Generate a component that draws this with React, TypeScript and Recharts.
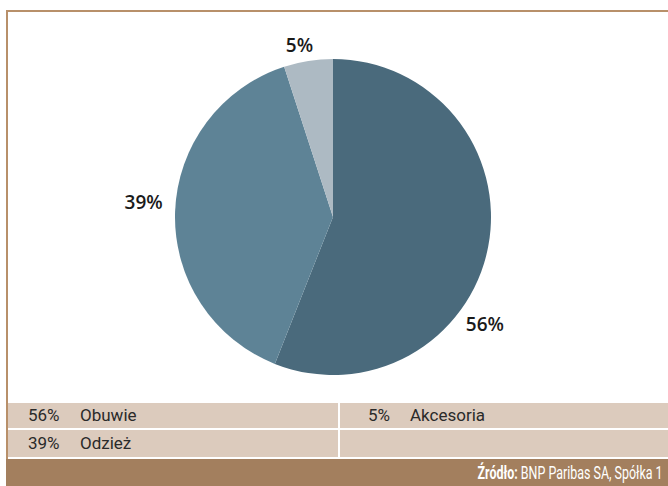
import { PieChart, Pie, Cell } from 'recharts';

const categories = ['Obuwie', 'Odzież', 'Akcesoria'];
const shares = [56, 39, 5];
const colors = ['#4a6a7c', '#5e8396', '#adbac3'];

const pieData = categories.map((name, i) => ({ name, value: shares[i] }));

const RAD = Math.PI / 180;

// label nudges (angle in degrees, extra radius in px) to follow the original layout
const labelTweak = [
    { da: -24, dr: 27 },
    { da: -3, dr: 32 },
    { da: 2, dr: 18 },
];

const renderLabel = (props: any) => {
    const { cx, cy, midAngle, outerRadius, index, value } = props;
    const t = labelTweak[index];
    const angle = midAngle + t.da;
    const r = outerRadius + t.dr;
    const x = cx + r * Math.cos(-angle * RAD);
    const y = cy + r * Math.sin(-angle * RAD);
    return (
        <text x={x} y={y + 1} textAnchor="middle" dominantBaseline="central"
            fontFamily="'Open Sans', sans-serif" fontWeight={600} fontSize={19} fill="#1a1a1a">
            {value}%
        </text>
    );
};

const cellText = { fontFamily: "Roboto, sans-serif", fontSize: 17, color: '#2a2a2a' };

export default function App() {
    return (
        <div style={{ position: 'absolute', left: 0, top: 0, width: 668, height: 486, background: '#fff', overflow: 'hidden' }}>
            <div style={{ position: 'absolute', left: 6, top: 10, width: 662, height: 449, borderTop: '2px solid #b8906a', borderLeft: '2px solid #b8906a', boxSizing: 'border-box' }} />
            <div style={{ position: 'absolute', left: 0, top: 0 }}>
                <PieChart width={668} height={400} margin={{ top: 0, right: 0, bottom: 0, left: 0 }}>
                    <Pie data={pieData} dataKey="value" cx={333} cy={217} outerRadius={158}
                        startAngle={90} endAngle={-270} stroke="none" label={renderLabel} labelLine={false}
                        isAnimationActive={false}>
                        {pieData.map((d, i) => <Cell key={d.name} fill={colors[i]} />)}
                    </Pie>
                </PieChart>
            </div>
            {[
                { top: 403, h: 25, items: [0, 2] },
                { top: 430, h: 27, items: [1] },
            ].map((row, ri) => (
                <div key={ri} style={{ position: 'absolute', left: 8, top: row.top, width: 660, height: row.h }}>
                    {[0, 1].map((col) => {
                        const idx = row.items[col];
                        return (
                            <div key={col} style={{
                                position: 'absolute', left: col === 0 ? 0 : 332, top: 0,
                                width: col === 0 ? 330 : 328, height: row.h, background: '#dccbbd',
                                lineHeight: `${row.h}px`, ...cellText,
                            }}>
                                {idx !== undefined && (
                                    <>
                                        <span style={{ position: 'absolute', left: col === 0 ? 20 : 28 }}>{shares[idx]}%</span>
                                        <span style={{ position: 'absolute', left: col === 0 ? 72 : 70 }}>{categories[idx]}</span>
                                    </>
                                )}
                            </div>
                        );
                    })}
                </div>
            ))}
            <div style={{
                position: 'absolute', left: 6, top: 459, width: 662, height: 27, background: '#a37f5e',
                display: 'flex', alignItems: 'center', justifyContent: 'flex-end',
                fontFamily: "Roboto, sans-serif", fontSize: 19, color: '#fff',
            }}>
                <span style={{ marginRight: 5, transform: 'scaleX(0.655)', transformOrigin: 'right center', whiteSpace: 'nowrap' }}>
                    <b>Źródło:</b> BNP Paribas SA, Spółka 1
                </span>
            </div>
        </div>
    );
}
